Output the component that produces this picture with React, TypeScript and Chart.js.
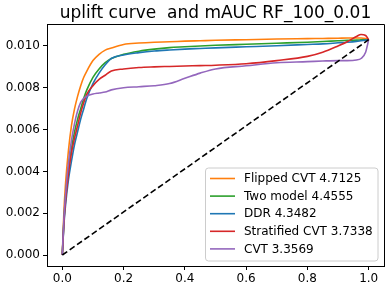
import React, { useEffect, useRef } from "react";
import { Chart, registerables } from "chart.js";

Chart.register(...registerables);

const TITLE = "uplift curve  and mAUC RF_100_0.01";
const X = [0, 0.005, 0.01, 0.02, 0.03, 0.04, 0.05, 0.06, 0.07, 0.08, 0.1, 0.12, 0.14, 0.16, 0.2, 0.25, 0.3, 0.35, 0.4, 0.45, 0.5, 0.6, 0.7, 0.8, 0.85, 0.9, 0.93, 0.96, 0.975, 0.99, 1.0];
const FLIPPED = [0, 0.002, 0.0033, 0.005, 0.0062, 0.007, 0.0076, 0.0081, 0.0085, 0.0088, 0.0093, 0.0096, 0.0098, 0.0099, 0.01007, 0.01014, 0.01018, 0.0102, 0.01023, 0.01025, 0.01027, 0.0103, 0.01033, 0.01035, 0.01036, 0.01037, 0.01038, 0.01038, 0.01038, 0.01036, 0.0103];
const TWO_MODEL = [0, 0.0016, 0.0027, 0.0041, 0.0051, 0.0059, 0.0065, 0.007, 0.0075, 0.0079, 0.0085, 0.0089, 0.0092, 0.0094, 0.0096, 0.00975, 0.00985, 0.00992, 0.00996, 0.01, 0.01003, 0.01008, 0.01013, 0.01018, 0.01021, 0.01025, 0.01027, 0.01028, 0.01029, 0.0103, 0.0103];
const DDR = [0, 0.0014, 0.0023, 0.0036, 0.0045, 0.0053, 0.0059, 0.0065, 0.007, 0.0075, 0.0082, 0.0087, 0.0091, 0.0094, 0.00957, 0.00968, 0.00976, 0.00981, 0.00985, 0.00988, 0.00991, 0.00996, 0.01001, 0.01007, 0.0101, 0.01015, 0.01018, 0.01022, 0.01025, 0.01028, 0.0103];
const STRATIFIED = [0, 0.0015, 0.0025, 0.0039, 0.0049, 0.0056, 0.0062, 0.0068, 0.0073, 0.0077, 0.0081, 0.0084, 0.0086, 0.0088, 0.0089, 0.00897, 0.009, 0.00902, 0.00904, 0.00906, 0.00908, 0.00915, 0.0093, 0.0095, 0.0097, 0.01, 0.0102, 0.01045, 0.01055, 0.0105, 0.0103];
const CVT = [0, 0.0017, 0.0028, 0.0044, 0.0055, 0.0063, 0.0069, 0.0073, 0.0075, 0.0076, 0.0077, 0.00775, 0.0078, 0.0079, 0.008, 0.00805, 0.0081, 0.0082, 0.00845, 0.0087, 0.0089, 0.00905, 0.0092, 0.00925, 0.00928, 0.0093, 0.0093, 0.00933, 0.0094, 0.0097, 0.0103];
const RANDOM_X = [0, 1];
const RANDOM_Y = [0, 0.0103];
const SERIES_NAMES = ["Flipped CVT 4.7125", "Two model 4.4555", "DDR 4.3482", "Stratified CVT 3.7338", "CVT 3.3569"];
const SERIES_VALUES = [FLIPPED, TWO_MODEL, DDR, STRATIFIED, CVT];
const COLORS = ["#ff7f0e", "#2ca02c", "#1f77b4", "#d62728", "#9467bd"];
const X_TICKS = [0, 0.2, 0.4, 0.6, 0.8, 1.0];
const Y_TICKS = [0, 0.002, 0.004, 0.006, 0.008, 0.01];

const FONT = "'DejaVu Sans', sans-serif";

export default function App() {
  const ref = useRef<HTMLCanvasElement | null>(null);
  useEffect(() => {
    if (!ref.current) return;
    const datasets: any[] = SERIES_VALUES.map((vals, i) => ({
      label: SERIES_NAMES[i],
      data: X.map((x, j) => ({ x, y: vals[j] })),
      borderColor: COLORS[i],
      backgroundColor: COLORS[i],
      borderWidth: 1.6,
      pointRadius: 0,
      cubicInterpolationMode: "monotone",
      fill: false,
      order: 5 - i,
    }));
    datasets.push({
      label: "random",
      data: RANDOM_X.map((x, j) => ({ x, y: RANDOM_Y[j] })),
      borderColor: "#000",
      borderWidth: 1.6,
      borderDash: [6, 3],
      pointRadius: 0,
      fill: false,
      order: 0,
    });

    const decor = {
      id: "decor",
      afterDraw(chart: any) {
        const { ctx, chartArea: a } = chart;
        ctx.save();
        ctx.strokeStyle = "#000";
        ctx.lineWidth = 1;
        ctx.beginPath();
        ctx.moveTo(a.left, a.top + 0.5);
        ctx.lineTo(a.right + 0.5, a.top + 0.5);
        ctx.lineTo(a.right + 0.5, a.bottom);
        ctx.stroke();
        // title
        ctx.fillStyle = "#000";
        ctx.font = `17px ${FONT}`;
        ctx.textAlign = "center";
        ctx.textBaseline = "alphabetic";
        ctx.fillText(TITLE, (a.left + a.right) / 2, 18);
        // legend
        const bx = 205.5, by = 168, bw = 172.5, bh = 93, r = 3;
        ctx.beginPath();
        ctx.moveTo(bx + r, by);
        ctx.arcTo(bx + bw, by, bx + bw, by + bh, r);
        ctx.arcTo(bx + bw, by + bh, bx, by + bh, r);
        ctx.arcTo(bx, by + bh, bx, by, r);
        ctx.arcTo(bx, by, bx + bw, by, r);
        ctx.closePath();
        ctx.fillStyle = "rgba(255,255,255,0.8)";
        ctx.fill();
        ctx.strokeStyle = "#cccccc";
        ctx.lineWidth = 1;
        ctx.stroke();
        ctx.font = `12px ${FONT}`;
        ctx.textAlign = "left";
        ctx.textBaseline = "middle";
        SERIES_NAMES.forEach((name, i) => {
          const y = 178.5 + i * 17.6;
          ctx.strokeStyle = COLORS[i];
          ctx.lineWidth = 1.6;
          ctx.beginPath();
          ctx.moveTo(210, y);
          ctx.lineTo(235, y);
          ctx.stroke();
          ctx.fillStyle = "#000";
          ctx.fillText(name, 244, y + 0.5);
        });
        ctx.restore();
      },
    };

    const chart = new Chart(ref.current, {
      type: "line",
      data: { datasets },
      options: {
        animation: false,
        responsive: false,
        events: [],
        layout: { padding: { top: 24, right: 7, left: 0, bottom: 0 } },
        plugins: { legend: { display: false }, title: { display: false }, tooltip: { enabled: false } },
        scales: {
          x: {
            type: "linear",
            min: -0.05,
            max: 1.05,
            afterBuildTicks: (s: any) => { s.ticks = X_TICKS.map((v) => ({ value: v })); },
            afterFit: (s: any) => { s.height = 25; },
            ticks: {
              callback: (v: any) => Number(v).toFixed(1),
              font: { family: FONT, size: 12 },
              color: "#000",
              padding: 2,
              maxRotation: 0,
              autoSkip: false,
            },
            grid: { display: true, drawOnChartArea: false, drawTicks: true, tickLength: 4, color: "#000" },
            border: { display: true, color: "#000", width: 1 },
          },
          y: {
            type: "linear",
            min: -0.000525,
            max: 0.01105,
            afterBuildTicks: (s: any) => { s.ticks = Y_TICKS.map((v) => ({ value: v })); },
            afterFit: (s: any) => { s.width = 47; },
            ticks: {
              callback: (v: any) => Number(v).toFixed(3),
              font: { family: FONT, size: 12 },
              color: "#000",
              padding: 3,
              autoSkip: false,
            },
            grid: { display: true, drawOnChartArea: false, drawTicks: true, tickLength: 4, color: "#000" },
            border: { display: true, color: "#000", width: 1 },
          },
        },
      },
      plugins: [decor],
    } as any);
    return () => chart.destroy();
  }, []);

  return (
    <div style={{ position: "fixed", left: 0, top: 0, width: 391, height: 291, background: "#fff" }}>
      <canvas ref={ref} width={391} height={291} style={{ width: 391, height: 291, display: "block" }} />
    </div>
  );
}
